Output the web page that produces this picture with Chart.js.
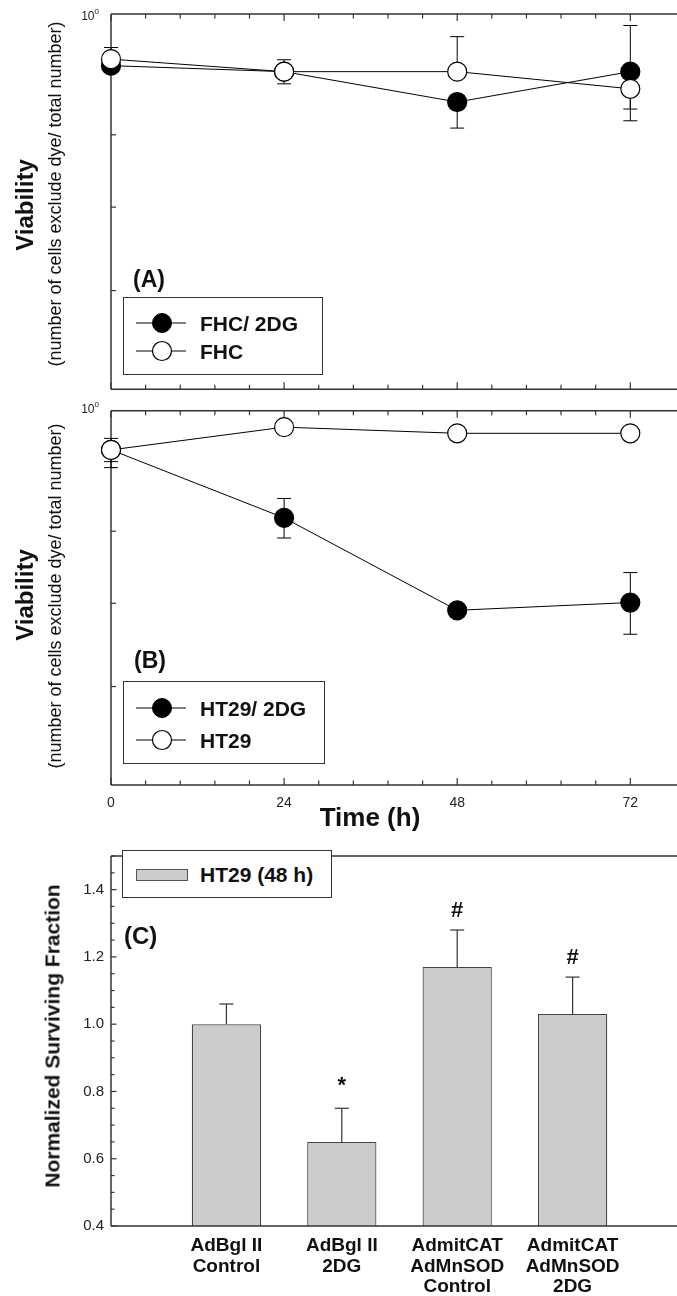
<!DOCTYPE html>
<html><head><meta charset="utf-8">
<script src="https://cdn.jsdelivr.net/npm/chart.js@4.4.1/dist/chart.umd.min.js"></script>
<style>
html,body{margin:0;padding:0;background:#fff;}
body{width:677px;height:1296px;overflow:hidden;position:relative;font-family:'Liberation Sans',Arial,Helvetica,sans-serif;color:#111;}
canvas{position:absolute;left:0;}
.t{position:absolute;white-space:nowrap;line-height:1;}
.rot{transform:translate(-50%,-50%) rotate(-90deg);}
.ctr{transform:translate(-50%,-50%);}
.b{font-weight:bold;}
.leg{position:absolute;border:1px solid #333;box-sizing:border-box;background:#fff;}
.row{position:absolute;left:0;height:0;}
.row svg{position:absolute;left:12px;top:-11px;}
.row span{position:absolute;left:76px;top:0;transform:translateY(-50%);font-weight:bold;font-size:21px;line-height:1;white-space:nowrap;}
</style></head><body>
<canvas id="cA" width="720" height="400" style="top:0"></canvas>
<canvas id="cB" width="720" height="440" style="top:400px"></canvas>
<canvas id="cC" width="720" height="456" style="top:840px"></canvas>

<!-- Panel A texts -->
<div class="t" style="left:99px;top:15px;transform:translate(-100%,-50%);font-size:12px;color:#222">10<sup style="font-size:8px;vertical-align:6px">0</sup></div>
<div class="t b rot" style="left:25px;top:205px;font-size:24px">Viability</div>
<div class="t rot" style="left:55px;top:194px;font-size:18px">(number of cells exclude dye/ total number)</div>
<div class="t b" style="left:133px;top:268px;font-size:23px">(A)</div>
<div class="leg" style="left:123px;top:297px;width:200px;height:78px">
  <div class="row" style="top:25px"><svg width="52" height="22"><line x1="0" y1="11" x2="50" y2="11" stroke="#000" stroke-width="1"/><circle cx="26" cy="11" r="9.5" fill="#000" stroke="#000"/></svg><span>FHC/ 2DG</span></div>
  <div class="row" style="top:53px"><svg width="52" height="22"><line x1="0" y1="11" x2="50" y2="11" stroke="#000" stroke-width="1"/><circle cx="26" cy="11" r="9.5" fill="#fff" stroke="#000" stroke-width="1.2"/></svg><span>FHC</span></div>
</div>

<!-- Panel B texts -->
<div class="t" style="left:99px;top:408px;transform:translate(-100%,-50%);font-size:12px;color:#222">10<sup style="font-size:8px;vertical-align:6px">0</sup></div>
<div class="t b rot" style="left:25px;top:595px;font-size:24px">Viability</div>
<div class="t rot" style="left:55px;top:596px;font-size:18px">(number of cells exclude dye/ total number)</div>
<div class="t b" style="left:134px;top:649px;font-size:23px">(B)</div>
<div class="leg" style="left:123px;top:681px;width:202px;height:83px">
  <div class="row" style="top:26px"><svg width="52" height="22"><line x1="0" y1="11" x2="50" y2="11" stroke="#000" stroke-width="1"/><circle cx="26" cy="11" r="9.5" fill="#000" stroke="#000"/></svg><span>HT29/ 2DG</span></div>
  <div class="row" style="top:58px"><svg width="52" height="22"><line x1="0" y1="11" x2="50" y2="11" stroke="#000" stroke-width="1"/><circle cx="26" cy="11" r="9.5" fill="#fff" stroke="#000" stroke-width="1.2"/></svg><span>HT29</span></div>
</div>
<div class="t b ctr" style="left:370px;top:817px;font-size:26px">Time (h)</div>

<!-- Panel C texts -->
<div class="t b rot" style="left:52px;top:1036px;font-size:21px">Normalized Surviving Fraction</div>
<div class="leg" style="left:122px;top:850px;width:210px;height:48px">
  <div style="position:absolute;left:13px;top:18px;width:50px;height:10px;background:#cccccc;border:1px solid #555"></div>
  <span class="t b" style="left:77px;top:23px;transform:translateY(-50%);font-size:21px">HT29 (48 h)</span>
</div>
<div class="t b" style="left:124px;top:924px;font-size:24px">(C)</div>

<script>
// ---------- data ----------
const timeH = [0, 24, 48, 72];
const xTickLabels = ['0', '24', '48', '72'];
const logTicks = [0.6, 0.7, 0.8, 0.9];

const fhc2dg   = [0.909, 0.899, 0.850, 0.899];
const fhc2dgUp = [0, 0, 0, 0.08];
const fhc2dgDn = [0, 0, 0.04, 0.06];
const fhc      = [0.920, 0.899, 0.899, 0.871];
const fhcUp    = [0.02, 0.02, 0.06, 0];
const fhcDn    = [0, 0.02, 0, 0.05];

const ht2dg    = [0.930, 0.820, 0.691, 0.701];
const ht2dgUp  = [0, 0.03, 0, 0.04];
const ht2dgDn  = [0.03, 0.03, 0, 0.04];
const ht       = [0.930, 0.970, 0.959, 0.959];
const htUp     = [0.02, 0, 0, 0];
const htDn     = [0.02, 0, 0, 0];

const barCats  = [['AdBgl II','Control'], ['AdBgl II','2DG'], ['AdmitCAT','AdMnSOD','Control'], ['AdmitCAT','AdMnSOD','2DG']];
const barVals  = [1.00, 0.65, 1.17, 1.03];
const barErr   = [0.06, 0.10, 0.11, 0.11];
const barMarks = ['', '*', '#', '#'];
const yTicksC  = ['0.4','0.6','0.8','1.0','1.2','1.4'];

const FONT = "'Liberation Sans', Arial, Helvetica, sans-serif";
const AX = '#333';

function seg(ctx, x1, y1, x2, y2){ctx.beginPath();ctx.moveTo(x1,y1);ctx.lineTo(x2,y2);ctx.stroke();}

// frame + inward ticks for time panels
const framePlugin = {
  id: 'frame',
  beforeDatasetsDraw(chart){
    const {ctx, chartArea:a, scales} = chart;
    ctx.save();
    ctx.strokeStyle = AX; ctx.lineWidth = 1.5;
    seg(ctx, a.left, a.top, a.right, a.top);
    seg(ctx, a.left, a.bottom, a.right, a.bottom);
    seg(ctx, a.left, a.top, a.left, a.bottom);
    seg(ctx, a.right, a.top, a.right, a.bottom);
    ctx.lineWidth = 1.2;
    scales.x.ticks.forEach(t => {
      const px = scales.x.getPixelForValue(t.value);
      const major = Math.abs(t.value/24 - Math.round(t.value/24)) < 1e-6;
      const L = major ? 7 : 4.5;
      seg(ctx, px, a.bottom, px, a.bottom - L);
      seg(ctx, px, a.top, px, a.top + L);
    });
    logTicks.forEach(v => {
      const py = scales.y.getPixelForValue(v);
      seg(ctx, a.left, py, a.left + 5, py);
    });
    ctx.restore();
  }
};

const errPlugin = {
  id: 'err',
  beforeDatasetsDraw(chart){
    const {ctx, scales} = chart;
    ctx.save(); ctx.strokeStyle = '#000'; ctx.lineWidth = 1;
    chart.data.datasets.forEach((ds, i) => {
      const meta = chart.getDatasetMeta(i);
      meta.data.forEach((pt, j) => {
        const v = ds.data[j].y;
        if (ds.errUp[j] > 0) {
          const yy = scales.y.getPixelForValue(v + ds.errUp[j]);
          seg(ctx, pt.x, pt.y, pt.x, yy); seg(ctx, pt.x - 7, yy, pt.x + 7, yy);
        }
        if (ds.errDn[j] > 0) {
          const yy = scales.y.getPixelForValue(v - ds.errDn[j]);
          seg(ctx, pt.x, pt.y, pt.x, yy); seg(ctx, pt.x - 7, yy, pt.x + 7, yy);
        }
      });
    });
    ctx.restore();
  }
};

function series(vals, up, dn, filled){
  return {
    data: timeH.map((t, i) => ({x: t, y: vals[i]})),
    errUp: up, errDn: dn,
    borderColor: '#000', borderWidth: 1,
    pointRadius: 9.5, pointHoverRadius: 9.5,
    pointBackgroundColor: filled ? '#000' : '#fff',
    pointBorderColor: '#000', pointBorderWidth: 1.2,
    tension: 0, clip: false, fill: false
  };
}

function timeOptions(showX, padTop, xHeight){
  return {
    responsive: false, animation: false,
    layout: {padding: {left: 0, top: padTop, right: 32, bottom: 0}},
    plugins: {legend: {display: false}, tooltip: {enabled: false}},
    events: [],
    scales: {
      x: {type: 'linear', min: 0, max: 80,
          grid: {display: false, drawTicks: false}, border: {display: false},
          ticks: {display: showX, stepSize: 4.8, autoSkip: false, maxRotation: 0, padding: 10,
                  color: '#222', font: {family: FONT, size: 14},
                  callback: v => { const k = timeH.indexOf(Math.round(v*1000)/1000); return k >= 0 ? xTickLabels[k] : ''; }},
          afterFit(s){ s.height = xHeight; }},
      y: {type: 'logarithmic', min: 0.5, max: 1,
          grid: {display: false, drawTicks: false}, border: {display: false},
          ticks: {display: false},
          afterFit(s){ s.width = 111; }}
    }
  };
}

new Chart(document.getElementById('cA'), {
  type: 'line',
  data: {datasets: [series(fhc, fhcUp, fhcDn, false), series(fhc2dg, fhc2dgUp, fhc2dgDn, true)]},
  options: timeOptions(false, 14, 6),
  plugins: [framePlugin, errPlugin]
});

new Chart(document.getElementById('cB'), {
  type: 'line',
  data: {datasets: [series(ht, htUp, htDn, false), series(ht2dg, ht2dgUp, ht2dgDn, true)]},
  options: timeOptions(true, 6, 55),
  plugins: [framePlugin, errPlugin]
});

// ---------- Panel C ----------
const barFramePlugin = {
  id: 'barframe',
  beforeDatasetsDraw(chart){
    const {ctx, chartArea:a, scales} = chart;
    ctx.save();
    ctx.strokeStyle = AX; ctx.lineWidth = 1.5;
    seg(ctx, a.left, a.top, a.right, a.top);
    seg(ctx, a.left, a.top, a.left, a.bottom);
    seg(ctx, a.right, a.top, a.right, a.bottom);
    ctx.lineWidth = 1.2;
    scales.y.ticks.forEach(t => {
      const py = scales.y.getPixelForValue(t.value);
      const major = yTicksC.indexOf(Number(t.value).toFixed(1)) >= 0 && Math.abs(t.value*5 - Math.round(t.value*5)) < 1e-6;
      seg(ctx, a.left, py, a.left + (major ? 5.5 : 3.5), py);
    });
    ctx.restore();
  },
  afterDatasetsDraw(chart){
    const {ctx, chartArea:a, scales} = chart;
    ctx.save();
    ctx.strokeStyle = AX; ctx.lineWidth = 1.5;
    seg(ctx, a.left, a.bottom, a.right, a.bottom);
    ctx.strokeStyle = '#333'; ctx.lineWidth = 1.2;
    const meta = chart.getDatasetMeta(0);
    meta.data.forEach((el, i) => {
      const yy = scales.y.getPixelForValue(barVals[i] + barErr[i]);
      seg(ctx, el.x, el.y, el.x, yy);
      seg(ctx, el.x - 7, yy, el.x + 7, yy);
      if (barMarks[i]) {
        ctx.fillStyle = '#111';
        ctx.font = 'bold 22px ' + FONT;
        ctx.textAlign = 'center';
        ctx.textBaseline = 'alphabetic';
        const m = ctx.measureText(barMarks[i]);
        const h = m.actualBoundingBoxAscent - m.actualBoundingBoxDescent;
        const cy = yy - 21;
        ctx.fillText(barMarks[i], el.x, cy + h/2 + m.actualBoundingBoxDescent);
      }
    });
    ctx.restore();
  }
};

new Chart(document.getElementById('cC'), {
  type: 'bar',
  data: {datasets: [{
    data: barVals.map((v, i) => ({x: i + 1, y: v})),
    backgroundColor: '#cccccc', borderColor: '#444', borderWidth: 1.2, borderSkipped: 'bottom',
    categoryPercentage: 1, barPercentage: 0.6
  }]},
  options: {
    responsive: false, animation: false, events: [],
    layout: {padding: {left: 0, top: 5, right: 32, bottom: 0}},
    plugins: {legend: {display: false}, tooltip: {enabled: false}},
    scales: {
      x: {type: 'linear', min: 0, max: 5, offset: false,
          grid: {display: false, drawTicks: false, offset: false}, border: {display: false},
          ticks: {stepSize: 1, autoSkip: false, maxRotation: 0, padding: 9, color: '#111',
                  font: {family: FONT, size: 19, weight: 'bold', lineHeight: 1.1},
                  callback: v => (v >= 1 && v <= barCats.length) ? barCats[v - 1] : ''},
          afterFit(s){ s.height = 70; }},
      y: {type: 'linear', min: 0.4, max: 1.5,
          grid: {display: false, drawTicks: false}, border: {display: false},
          ticks: {stepSize: 0.05, autoSkip: false, padding: 7, color: '#222',
                  font: {family: FONT, size: 15},
                  callback: v => { const s = Number(v).toFixed(1); return (Math.abs(v*5 - Math.round(v*5)) < 1e-6 && yTicksC.indexOf(s) >= 0) ? s : ''; }},
          afterFit(s){ s.width = 111; }}
    }
  },
  plugins: [barFramePlugin]
});
</script>
</body></html>
